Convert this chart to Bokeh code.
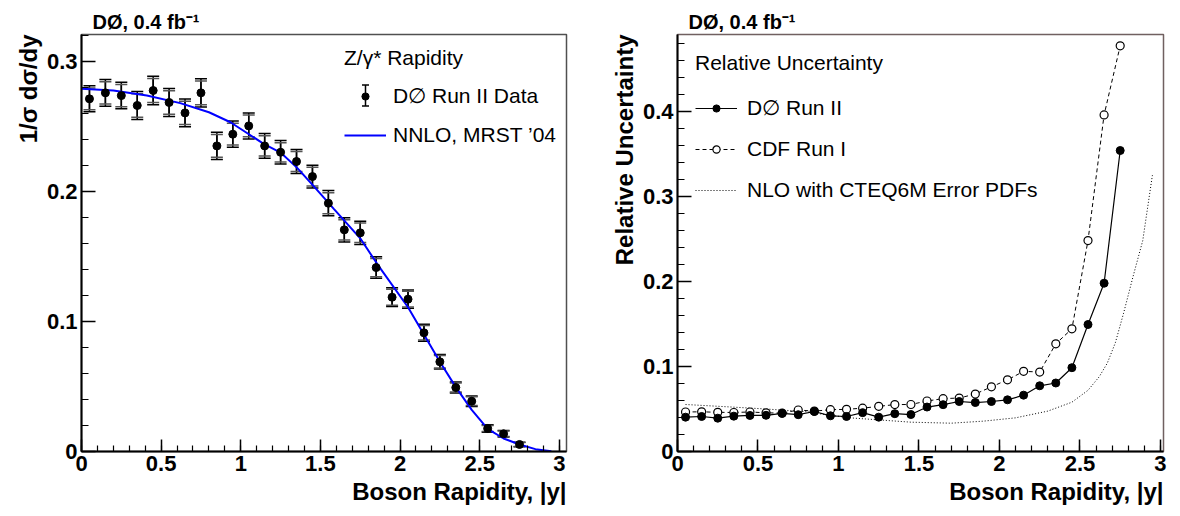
from bokeh.plotting import figure
from bokeh.models import (ColumnDataSource, Whisker, TeeHead, Legend, LegendItem, Title,
                          SingleIntervalTicker, CustomJSTickFormatter, Range1d)
from bokeh.layouts import row
from bokeh.embed import file_html
from bokeh.resources import INLINE

# ---------------- data ----------------
bin_centers = [0.05, 0.15, 0.25, 0.35, 0.45, 0.55, 0.65, 0.75, 0.85, 0.95,
               1.05, 1.15, 1.25, 1.35, 1.45, 1.55, 1.65, 1.75, 1.85, 1.95,
               2.05, 2.15, 2.25, 2.35, 2.45, 2.55, 2.65, 2.75]
d0_xsec = [0.2713, 0.2759, 0.2738, 0.2662, 0.2777, 0.2685, 0.2605, 0.2759, 0.2351, 0.2441,
           0.2505, 0.2351, 0.2302, 0.2231, 0.2115, 0.1910, 0.1705, 0.1682, 0.1415, 0.1187,
           0.1172, 0.0913, 0.0690, 0.0492, 0.0387, 0.0177, 0.0136, 0.0054]
d0_err_total = [0.0100, 0.0103, 0.0102, 0.0107, 0.0110, 0.0107, 0.0107, 0.0109, 0.0105, 0.0101,
                0.0100, 0.0095, 0.0090, 0.0093, 0.0088, 0.0097, 0.0094, 0.0090, 0.0083, 0.0072,
                0.0070, 0.0065, 0.0056, 0.0042, 0.0040, 0.0028, 0.0025, 0.0018]
d0_err_stat = [0.0083, 0.0086, 0.0085, 0.0090, 0.0093, 0.0090, 0.0090, 0.0092, 0.0088, 0.0084,
               0.0083, 0.0078, 0.0074, 0.0077, 0.0072, 0.0081, 0.0078, 0.0075, 0.0070, 0.0061,
               0.0060, 0.0056, 0.0048, 0.0035, 0.0034, 0.0023, 0.0021, 0.0015]

nnlo_rap = [0.0, 0.20, 0.41, 0.62, 0.80, 0.935, 1.144, 1.25, 1.354, 1.459, 1.584, 1.75,
            1.856, 2.05, 2.25, 2.35, 2.45, 2.55, 2.65, 2.75, 2.85, 2.95]
nnlo_xsec = [0.2790, 0.2777, 0.2738, 0.2680, 0.2610, 0.2533, 0.2367, 0.2300, 0.2182, 0.2040,
             0.1867, 0.1640, 0.1444, 0.1110, 0.0690, 0.0495, 0.0320, 0.0174, 0.0100, 0.0054,
             0.0018, 0.0002]

rel_unc_d0 = [0.0404, 0.0412, 0.0392, 0.0416, 0.0424, 0.0426, 0.0449, 0.0433, 0.0471, 0.0420,
              0.0412, 0.0457, 0.0404, 0.0445, 0.0435, 0.0523, 0.0551, 0.0588, 0.0576, 0.0588,
              0.0608, 0.0663, 0.0773, 0.0806, 0.0986, 0.1494, 0.1980, 0.3541]
rel_unc_cdf = [0.0465, 0.0467, 0.0461, 0.0459, 0.0465, 0.0455, 0.0451, 0.0488, 0.0475, 0.0492,
               0.0496, 0.0510, 0.0531, 0.0552, 0.0553, 0.0594, 0.0622, 0.0629, 0.0676, 0.0761,
               0.0843, 0.0943, 0.0935, 0.1267, 0.1443, 0.2482, 0.3960, 0.4773]

nlo_rap = [0.05, 0.30, 0.55, 0.80, 0.95, 1.10, 1.25, 1.45, 1.70, 1.90, 2.10, 2.30, 2.45,
           2.55, 2.62, 2.67, 2.72, 2.77, 2.83, 2.89, 2.95]
nlo_unc = [0.0553, 0.0527, 0.0500, 0.0468, 0.0425, 0.0392, 0.0372, 0.0345, 0.0333, 0.0357,
           0.0396, 0.0475, 0.0580, 0.0720, 0.0880, 0.1040, 0.1280, 0.1620, 0.2060, 0.2480,
           0.3250]

title_text = "DØ, 0.4 fb⁻¹"
FONT = "Liberation Sans"

fmt = CustomJSTickFormatter(code="return String(Number(tick.toFixed(3)))")


def style_axes(p, ytitle, xtitle):
    p.xgrid.visible = False
    p.ygrid.visible = False
    p.background_fill_color = "white"
    p.border_fill_color = "white"
    for ax in (p.xaxis[0], p.yaxis[0]):
        ax.axis_line_width = 2
        ax.axis_line_color = "black"
        ax.major_tick_out = 0
        ax.minor_tick_out = 0
        ax.major_tick_line_width = 1.5
        ax.minor_tick_line_width = 1.2
        ax.major_tick_line_color = "black"
        ax.minor_tick_line_color = "black"
        ax.major_label_text_font = FONT
        ax.major_label_text_font_style = "bold"
        ax.major_label_text_font_size = "22px"
        ax.major_label_text_color = "black"
        ax.formatter = fmt
    p.xaxis[0].ticker = SingleIntervalTicker(interval=0.5, num_minor_ticks=5)
    p.xaxis[0].major_tick_in = 12
    p.xaxis[0].minor_tick_in = 6
    p.xaxis[0].major_label_standoff = 4
    p.yaxis[0].ticker = SingleIntervalTicker(interval=0.1, num_minor_ticks=5)
    p.yaxis[0].major_tick_in = 14
    p.yaxis[0].minor_tick_in = 7
    p.yaxis[0].major_label_standoff = 4
    p.title.text = title_text
    p.title.align = "left"
    p.title.offset = 11
    p.title.text_font = FONT
    p.title.text_font_style = "bold"
    p.title.text_font_size = "20px"
    p.title.text_color = "black"
    p.title.standoff = 3
    p.add_layout(Title(text=ytitle, align="right", text_font=FONT, text_font_style="bold",
                       text_font_size="24px", text_color="black", standoff=4), "left")
    p.add_layout(Title(text=xtitle, align="right", text_font=FONT, text_font_style="bold",
                       text_font_size="24px", text_color="black", standoff=4), "below")


def make_legend(items, title, loc, gw, spacing, lstand, tstand):
    return Legend(items=items, title=title, location=loc, padding=0, margin=0,
                  glyph_width=gw, glyph_height=18, label_height=30, spacing=spacing,
                  label_standoff=lstand, title_standoff=tstand,
                  label_text_font=FONT, label_text_font_size="21px", label_text_color="black",
                  title_text_font=FONT, title_text_font_size="21px",
                  title_text_font_style="normal", title_text_color="black",
                  border_line_color=None, background_fill_alpha=0)


# ---------------- left panel ----------------
p1 = figure(width=590, height=516, x_range=Range1d(0, 3.045), y_range=Range1d(0, 0.3208),
            output_backend="svg", toolbar_location=None,
            min_border_left=81, min_border_right=24, min_border_top=34, min_border_bottom=65)
p1.outline_line_color = "#505050"
p1.outline_line_width = 1.5
style_axes(p1, "1/σ dσ/dy", "Boson Rapidity, |y|")

src = ColumnDataSource(dict(
    x=bin_centers, y=d0_xsec,
    up_t=[v + e for v, e in zip(d0_xsec, d0_err_total)],
    lo_t=[v - e for v, e in zip(d0_xsec, d0_err_total)],
    up_s=[v + e for v, e in zip(d0_xsec, d0_err_stat)],
    lo_s=[v - e for v, e in zip(d0_xsec, d0_err_stat)],
))
w_tot = Whisker(source=src, base="x", upper="up_t", lower="lo_t", dimension="height",
                line_color="black", line_width=1.5,
                upper_head=TeeHead(size=12, line_width=1.5, line_color="black"),
                lower_head=TeeHead(size=12, line_width=1.5, line_color="black"))
w_stat = Whisker(source=src, base="x", upper="up_s", lower="lo_s", dimension="height",
                 line_color="black", line_width=1.5,
                 upper_head=TeeHead(size=12, line_width=1.5, line_color="#555555"),
                 lower_head=TeeHead(size=12, line_width=1.5, line_color="#555555"))
p1.add_layout(w_tot)
p1.add_layout(w_stat)
r_nnlo = p1.line(nnlo_rap, nnlo_xsec, line_color="#0000ff", line_width=2)
r_pts = p1.scatter("x", "y", source=src, size=8, marker="circle", fill_color="black",
                   line_color="black")

leg1_x, leg1_y = 263, 301
leg1 = make_legend([LegendItem(label="D∅ Run II Data", renderers=[r_pts]),
                    LegendItem(label="NNLO, MRST ’04", renderers=[r_nnlo])],
                   "Z/γ* Rapidity", (leg1_x, leg1_y), 42, 9, 7, 11)
p1.add_layout(leg1)

# error-bar symbol of the legend entry (screen units, tied to the legend box)
icon_src = ColumnDataSource(dict(x=[leg1_x + 21], lo=[leg1_y + 55 - 10.5], hi=[leg1_y + 55 + 10.5]))
p1.add_layout(Whisker(source=icon_src, base="x", upper="hi", lower="lo", dimension="height",
                      base_units="screen", upper_units="screen", lower_units="screen",
                      line_color="black", line_width=1.5,
                      upper_head=TeeHead(size=7, line_width=1.5, line_color="black"),
                      lower_head=TeeHead(size=7, line_width=1.5, line_color="black")))

# ---------------- right panel ----------------
p2 = figure(width=590, height=516, x_range=Range1d(0, 3.019), y_range=Range1d(0, 0.4906),
            output_backend="svg", toolbar_location=None,
            min_border_left=87, min_border_right=17, min_border_top=34, min_border_bottom=65)
p2.outline_line_color = "#706060"
p2.outline_line_width = 1.5
style_axes(p2, "Relative Uncertainty", "Boson Rapidity, |y|")

r_nlo = p2.line(nlo_rap, nlo_unc, line_color="black", line_width=1, line_dash="1 2")
r_cdf_l = p2.line(bin_centers, rel_unc_cdf, line_color="black", line_width=1, line_dash="4 3")
r_cdf_m = p2.scatter(bin_centers, rel_unc_cdf, marker="circle", size=8, fill_color="white",
                     line_color="black", line_width=1.2)
r_d0_l = p2.line(bin_centers, rel_unc_d0, line_color="black", line_width=1.2)
r_d0_m = p2.scatter(bin_centers, rel_unc_d0, marker="circle", size=8, fill_color="black",
                    line_color="black")

leg2 = make_legend([LegendItem(label="D∅ Run II", renderers=[r_d0_l, r_d0_m]),
                    LegendItem(label="CDF Run I", renderers=[r_cdf_l, r_cdf_m]),
                    LegendItem(label="NLO with CTEQ6M Error PDFs", renderers=[r_nlo])],
                   "Relative Uncertainty", (18, 246), 42, 11, 10, 18)
p2.add_layout(leg2)

layout = row(p1, p2)
open("out.html", "w").write(file_html(layout, INLINE))
